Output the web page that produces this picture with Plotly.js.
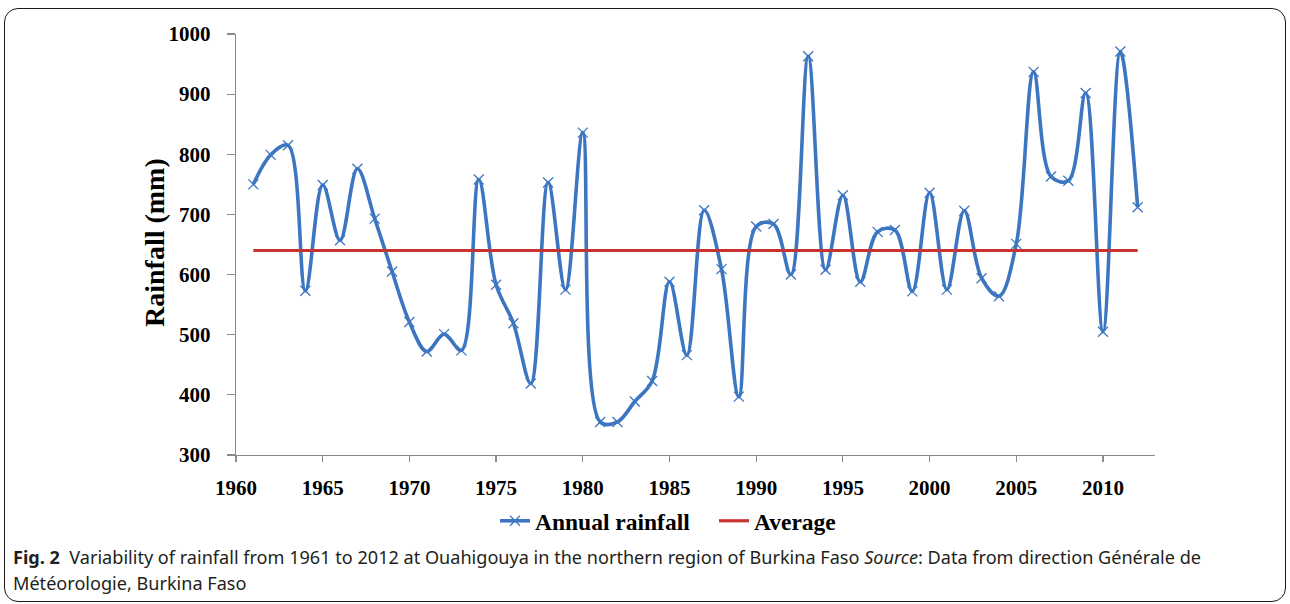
<!DOCTYPE html>
<html>
<head>
<meta charset="utf-8">
<script src="https://cdn.plot.ly/plotly-3.0.1.min.js"></script>
<style>
html,body{margin:0;padding:0;background:#fff;}
#wrap{position:relative;width:1290px;height:604px;overflow:hidden;}
#chart{position:absolute;left:0;top:0;width:1290px;height:604px;}
#frame{position:absolute;left:4px;top:8px;width:1282px;height:594px;border:1.4px solid #1a1a1a;border-radius:14px;pointer-events:none;box-sizing:border-box;}
</style>
</head>
<body>
<div id="wrap"><div id="chart"></div><div id="frame"></div></div>
<script>
// ---- data ----
const years = [1961,1962,1963,1964,1965,1966,1967,1968,1969,1970,
               1971,1972,1973,1974,1975,1976,1977,1978,1979,1980,
               1981,1982,1983,1984,1985,1986,1987,1988,1989,1990,
               1991,1992,1993,1994,1995,1996,1997,1998,1999,2000,
               2001,2002,2003,2004,2005,2006,2007,2008,2009,2010,
               2011,2012];
const rainfall = [750,799,815,573,749,657,776,693,605,521,
                  472,501,474,758,583,519,419,753,575,836,
                  355,355,389,423,588,466,707,609,397,680,
                  684,600,963,608,732,588,671,674,572,736,
                  575,706,594,564,651,937,763,756,902,505,
                  971,712];
const averageYears = [1961, 2012];
const averageValues = [640, 640];
const seriesNames = ['Annual rainfall', 'Average'];
const xTickValues = [1960,1965,1970,1975,1980,1985,1990,1995,2000,2005,2010];
const yTickValues = [300,400,500,600,700,800,900,1000];
const yTitle = 'Rainfall (mm)';
const captionLine1 = '<b>Fig. 2</b>  Variability of rainfall from 1961 to 2012 at Ouahigouya in the northern region of Burkina Faso <i>Source</i>: Data from direction Générale de';
const captionLine2 = 'Météorologie, Burkina Faso';

// ---- layout helpers (pixel -> paper) ----
const W = 1290, H = 604;
const L = 236, R = 1155, T = 34, B = 455;
const px2x = p => (p - L) / (R - L);
const px2y = p => (B - p) / (B - T);

const serif = 'Liberation Serif, Times New Roman, serif';
const blue = '#3D76C0';
const red = '#C8322F';

const traces = [
  {
    x: years, y: rainfall, name: seriesNames[0],
    type: 'scatter', mode: 'lines+markers',
    line: {color: blue, width: 3.6, shape: 'spline', smoothing: 1},
    marker: {symbol: 'x-thin-open', size: 10, color: blue, line: {color: blue, width: 1.3}},
    hoverinfo: 'x+y'
  },
  {
    x: averageYears, y: averageValues, name: seriesNames[1],
    type: 'scatter', mode: 'lines',
    line: {color: red, width: 3.2}
  }
];

const layout = {
  width: W, height: H,
  margin: {l: L, r: W - R, t: T, b: H - B, pad: 0},
  paper_bgcolor: '#fff', plot_bgcolor: '#fff',
  showlegend: true,
  legend: {
    orientation: 'h', x: px2x(495), xanchor: 'left', y: px2y(521), yanchor: 'middle',
    font: {family: serif, size: 23.5, color: '#000', weight: 'bold'},
    itemwidth: 30, tracegroupgap: 0, bgcolor: 'rgba(0,0,0,0)',
    entrywidth: 174, entrywidthmode: 'pixels'
  },
  xaxis: {
    range: [1960, 2013], tickvals: xTickValues, ticktext: xTickValues.map(String),
    showgrid: false, zeroline: false, showline: true, linecolor: '#8a8a8a', linewidth: 1.2,
    ticks: 'outside', ticklen: 6, tickcolor: '#8a8a8a', tickwidth: 1.2,
    tickfont: {family: serif, size: 21, color: '#000', weight: 'bold'},
    ticklabelstandoff: 8, fixedrange: true
  },
  yaxis: {
    range: [300, 1000], tickvals: yTickValues, ticktext: yTickValues.map(String),
    showgrid: false, zeroline: false, showline: true, linecolor: '#8a8a8a', linewidth: 1.2,
    ticks: 'outside', ticklen: 8, tickcolor: '#8a8a8a', tickwidth: 1.2,
    tickfont: {family: serif, size: 21, color: '#000', weight: 'bold'},
    ticklabelstandoff: 12, fixedrange: true
  },
  annotations: [
    {
      xref: 'paper', yref: 'paper', x: px2x(154), y: px2y(243),
      xanchor: 'center', yanchor: 'middle', textangle: -90, showarrow: false,
      text: '<b>' + yTitle + '</b>',
      font: {family: serif, size: 28, color: '#000'}
    },
    {
      xref: 'paper', yref: 'paper', x: px2x(11), y: px2y(557),
      xanchor: 'left', yanchor: 'middle', showarrow: false, align: 'left',
      text: captionLine1,
      font: {family: 'Noto Sans, Open Sans, sans-serif', size: 18.1, color: '#231f20'}
    },
    {
      xref: 'paper', yref: 'paper', x: px2x(11), y: px2y(583),
      xanchor: 'left', yanchor: 'middle', showarrow: false, align: 'left',
      text: captionLine2,
      font: {family: 'Noto Sans, Open Sans, sans-serif', size: 18.1, color: '#231f20'}
    }
  ]
};

Plotly.newPlot('chart', traces, layout, {displayModeBar: false, staticPlot: true});
</script>
</body>
</html>
